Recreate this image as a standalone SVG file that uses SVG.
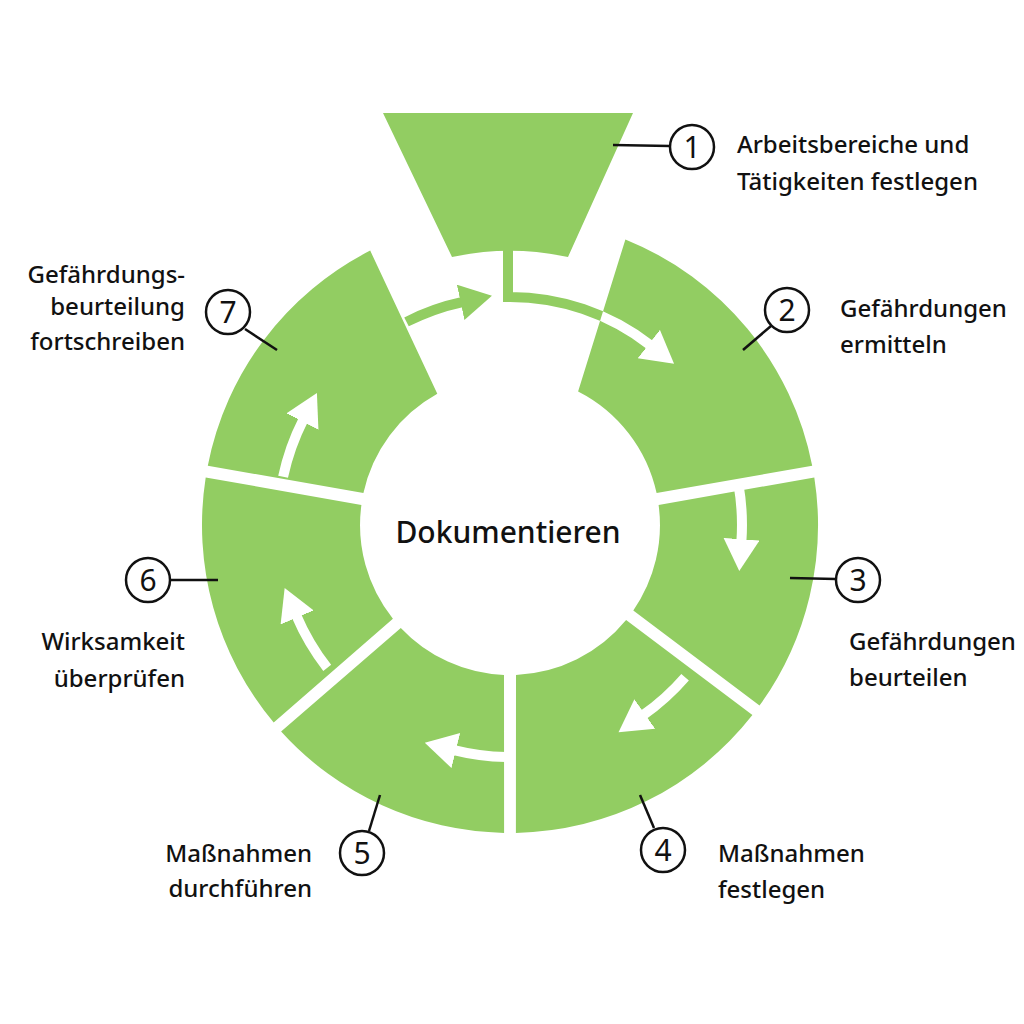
<svg xmlns="http://www.w3.org/2000/svg" width="1024" height="1024" viewBox="0 0 1024 1024">
<defs>
<style>
.seg{fill:#92cd62}
.arr{fill:none;stroke:#fff;stroke-width:10}
.arrg{fill:none;stroke:#92cd62;stroke-width:10}
.call{fill:none;stroke:#111;stroke-width:2.5}
.num{font-family:"Noto Sans","Liberation Sans",sans-serif;font-size:30px;fill:#111;text-anchor:middle}
.lbl{font-family:"Noto Sans","Liberation Sans",sans-serif;font-size:24px;font-weight:500;fill:#111}
.r{text-anchor:end}
</style>
<marker id="ah" markerUnits="userSpaceOnUse" markerWidth="40" markerHeight="40" refX="2" refY="18" orient="auto">
<path d="M0,0 L32,18 L0,36 Z" fill="#fff"/>
</marker>
<marker id="ahg" markerUnits="userSpaceOnUse" markerWidth="40" markerHeight="40" refX="2" refY="18" orient="auto">
<path d="M0,0 L32,18 L0,36 Z" fill="#92cd62"/>
</marker>
<clipPath id="c2"><path d="M625.4,239.4 A308,308 0 0 1 812.2,465.7 L656.6,493.1 A150,150 0 0 0 578.1,391.4 Z"/></clipPath>
<clipPath id="c7"><path d="M207.8,465.7 A308,308 0 0 1 370.2,250.6 L437.3,393.8 A150,150 0 0 0 363.4,493.1 Z"/></clipPath>
</defs>
<rect width="1024" height="1024" fill="#fff"/>
<g id="node1"><path class="seg" d="M383,113 L633,113 L568,257 A280,280 0 0 0 452,257 Z"/></g>
<g id="node2"><path class="seg" d="M625.4,239.4 A308,308 0 0 1 812.2,465.7 L656.6,493.1 A150,150 0 0 0 578.1,391.4 Z"/></g>
<g id="node3"><path class="seg" d="M814.3,477.4 A308,308 0 0 1 759.5,705.6 L633.3,610.4 A150,150 0 0 0 658.6,504.9 Z"/></g>
<g id="node4"><path class="seg" d="M752.4,715 A308,308 0 0 1 515.9,832.9 L516,674.9 A150,150 0 0 0 626.1,620 Z"/></g>
<g id="node5"><path class="seg" d="M504.1,832.9 A308,308 0 0 1 281.1,731.5 L400.8,627.9 A150,150 0 0 0 504,674.9 Z"/></g>
<g id="node6"><path class="seg" d="M273.7,722.6 A308,308 0 0 1 205.7,477.4 L361.4,504.9 A150,150 0 0 0 392.9,618.7 Z"/></g>
<g id="node7"><path class="seg" d="M207.8,465.7 A308,308 0 0 1 370.2,250.6 L437.3,393.8 A150,150 0 0 0 363.4,493.1 Z"/></g>
<g id="connectors">
<path class="arrg" d="M508,248 L508,297 A228,228 0 0 1 650.4,345.3" marker-end="url(#ahg)"/>
<path class="arr" clip-path="url(#c2)" d="M508,248 L508,297 A228,228 0 0 1 650.4,345.3" marker-end="url(#ah)"/>
<path class="arrg" d="M406.5,321.9 A228,228 0 0 1 462.6,302" marker-end="url(#ahg)"/>
<path class="arr" clip-path="url(#c7)" d="M406.5,321.9 A228,228 0 0 1 462.6,302"/>
<path class="arr" d="M738.5,484.7 A232,232 0 0 1 741.4,541.2" marker-end="url(#ah)"/>
<path class="arr" d="M685.1,677.2 A232,232 0 0 1 643.1,715.1" marker-end="url(#ah)"/>
<path class="arr" d="M506,757 A232,232 0 0 1 453.9,750.1" marker-end="url(#ah)"/>
<path class="arr" d="M327.2,667.8 A232,232 0 0 1 296.4,615.6" marker-end="url(#ah)"/>
<path class="arr" d="M283.1,476.8 A232,232 0 0 1 303.3,419.7" marker-end="url(#ah)"/>
<line class="call" x1="613" y1="145" x2="670" y2="146"/>
<line class="call" x1="743" y1="350" x2="771" y2="326"/>
<line class="call" x1="790" y1="578" x2="836" y2="579"/>
<line class="call" x1="640" y1="795" x2="654" y2="828"/>
<line class="call" x1="380" y1="795" x2="369" y2="831"/>
<line class="call" x1="170" y1="580" x2="218" y2="580"/>
<line class="call" x1="245" y1="329" x2="277" y2="350"/>
</g>
<g id="callouts">
<circle class="call" cx="692" cy="147" r="22"/><text class="num" x="692" y="158">1</text>
<circle class="call" cx="787" cy="310" r="22"/><text class="num" x="787" y="321">2</text>
<circle class="call" cx="858" cy="580" r="22"/><text class="num" x="858" y="591">3</text>
<circle class="call" cx="663" cy="850" r="22"/><text class="num" x="663" y="861">4</text>
<circle class="call" cx="362" cy="853" r="22"/><text class="num" x="362" y="864">5</text>
<circle class="call" cx="148" cy="580" r="22"/><text class="num" x="148" y="591">6</text>
<circle class="call" cx="228" cy="312" r="22"/><text class="num" x="228" y="323">7</text>
</g>
<g id="labels">
<text class="lbl" x="737" y="153">Arbeitsbereiche und</text>
<text class="lbl" x="737" y="190">Tätigkeiten festlegen</text>
<text class="lbl" x="840" y="317">Gefährdungen</text>
<text class="lbl" x="840" y="353">ermitteln</text>
<text class="lbl" x="849" y="650">Gefährdungen</text>
<text class="lbl" x="849" y="686">beurteilen</text>
<text class="lbl" x="718" y="862">Maßnahmen</text>
<text class="lbl" x="718" y="898">festlegen</text>
<text class="lbl r" x="312" y="862">Maßnahmen</text>
<text class="lbl r" x="312" y="897">durchführen</text>
<text class="lbl r" x="185" y="650">Wirksamkeit</text>
<text class="lbl r" x="185" y="687">überprüfen</text>
<text class="lbl r" x="185" y="283">Gefährdungs-</text>
<text class="lbl r" x="185" y="315">beurteilung</text>
<text class="lbl r" x="185" y="350">fortschreiben</text>
<text x="508" y="543" style="font-family:'Noto Sans','Liberation Sans',sans-serif;font-size:30px;font-weight:500;fill:#111;text-anchor:middle">Dokumentieren</text>
</g>
</svg>
